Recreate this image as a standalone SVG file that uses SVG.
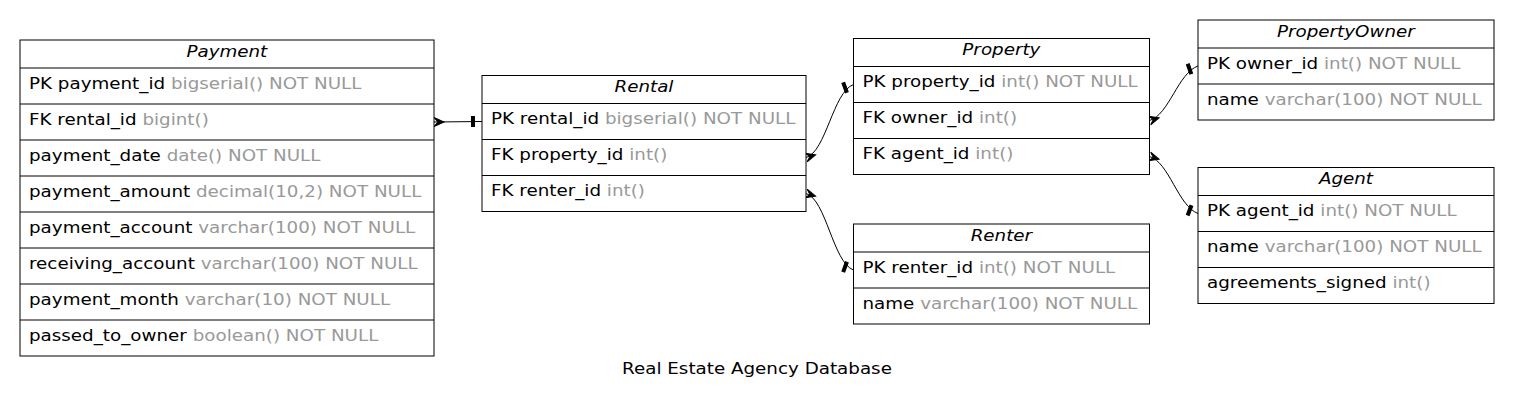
<svg xmlns="http://www.w3.org/2000/svg" width="1513" height="405" viewBox="0 0 1513 405">
<style>
  text { font-family: "DejaVu Sans", "Liberation Sans", sans-serif; font-size: 15px; fill: #000; transform-box: fill-box; transform: scaleX(1.22); }
  .l { transform-origin: 0 50%; }
  .c { text-anchor: middle; transform-origin: 50% 50%; }
  .h { font-style: italic; }
  .g { fill: #999999; }
  .box { fill: #fff; stroke: #000; stroke-width: 1; }
  .sep { stroke: #000; stroke-width: 1; }
  .edge { fill: none; stroke: #000; stroke-width: 1; marker-start: url(#crow); marker-end: url(#tee); }
</style>
<defs>
  <marker id="crow" markerUnits="userSpaceOnUse" orient="auto" markerWidth="12" markerHeight="12" refX="0" refY="0" overflow="visible">
    <path d="M0,-4.5 L10,0 L0,4.5 L4,0 Z" fill="#000" stroke="#000" stroke-width="1"/>
  </marker>
  <marker id="tee" markerUnits="userSpaceOnUse" orient="auto" markerWidth="12" markerHeight="12" refX="0" refY="0" overflow="visible">
    <rect x="-10.5" y="-5" width="3" height="10" fill="#000" stroke="#000" stroke-width="1"/>
  </marker>
</defs>
<rect width="1513" height="405" fill="#fff"/>

<g id="connectors">
  <path class="edge" d="M434,122 L482,121.5"/>
  <path class="edge" d="M806,157.5 C826,152 833,92 853.5,84.5"/>
  <path class="edge" d="M806,193.5 C826,199 833,262.5 853.5,270"/>
  <path class="edge" d="M1149.5,120.5 C1169,115 1178,73 1198,66"/>
  <path class="edge" d="M1149.5,156.5 C1169,162 1178,206 1198,213.5"/>
</g>

<g id="Payment">
  <rect class="box" x="20" y="40" width="414" height="316"/>
  <path class="sep" d="M20,68H434M20,104H434M20,140H434M20,176H434M20,212H434M20,248H434M20,284H434M20,320H434"/>
  <text class="c h" x="227" y="57">Payment</text>
  <text class="l" x="29" y="89">PK payment_id <tspan class="g">bigserial() NOT NULL</tspan></text>
  <text class="l" x="29" y="125">FK rental_id <tspan class="g">bigint()</tspan></text>
  <text class="l" x="29" y="161">payment_date <tspan class="g">date() NOT NULL</tspan></text>
  <text class="l" x="29" y="197">payment_amount <tspan class="g">decimal(10,2) NOT NULL</tspan></text>
  <text class="l" x="29" y="233">payment_account <tspan class="g">varchar(100) NOT NULL</tspan></text>
  <text class="l" x="29" y="269">receiving_account <tspan class="g">varchar(100) NOT NULL</tspan></text>
  <text class="l" x="29" y="305">payment_month <tspan class="g">varchar(10) NOT NULL</tspan></text>
  <text class="l" x="29" y="341">passed_to_owner <tspan class="g">boolean() NOT NULL</tspan></text>
</g>

<g id="Rental">
  <rect class="box" x="482" y="75.5" width="324" height="136"/>
  <path class="sep" d="M482,103.5H806M482,139.5H806M482,175.5H806"/>
  <text class="c h" x="644" y="92.5">Rental</text>
  <text class="l" x="491" y="124.5">PK rental_id <tspan class="g">bigserial() NOT NULL</tspan></text>
  <text class="l" x="491" y="160.5">FK property_id <tspan class="g">int()</tspan></text>
  <text class="l" x="491" y="196.5">FK renter_id <tspan class="g">int()</tspan></text>
</g>

<g id="Property">
  <rect class="box" x="853.5" y="38.5" width="296" height="136"/>
  <path class="sep" d="M853.5,66.5H1149.5M853.5,102.5H1149.5M853.5,138.5H1149.5"/>
  <text class="c h" x="1001.5" y="55.5">Property</text>
  <text class="l" x="862.5" y="87.5">PK property_id <tspan class="g">int() NOT NULL</tspan></text>
  <text class="l" x="862.5" y="123.5">FK owner_id <tspan class="g">int()</tspan></text>
  <text class="l" x="862.5" y="159.5">FK agent_id <tspan class="g">int()</tspan></text>
</g>

<g id="Renter">
  <rect class="box" x="853.5" y="224" width="296" height="100"/>
  <path class="sep" d="M853.5,252H1149.5M853.5,288H1149.5"/>
  <text class="c h" x="1001.5" y="241">Renter</text>
  <text class="l" x="862.5" y="273">PK renter_id <tspan class="g">int() NOT NULL</tspan></text>
  <text class="l" x="862.5" y="309">name <tspan class="g">varchar(100) NOT NULL</tspan></text>
</g>

<g id="PropertyOwner">
  <rect class="box" x="1198" y="20" width="296" height="100"/>
  <path class="sep" d="M1198,48H1494M1198,84H1494"/>
  <text class="c h" x="1346" y="37">PropertyOwner</text>
  <text class="l" x="1207" y="69">PK owner_id <tspan class="g">int() NOT NULL</tspan></text>
  <text class="l" x="1207" y="105">name <tspan class="g">varchar(100) NOT NULL</tspan></text>
</g>

<g id="Agent">
  <rect class="box" x="1198" y="167.5" width="296" height="136"/>
  <path class="sep" d="M1198,195.5H1494M1198,231.5H1494M1198,267.5H1494"/>
  <text class="c h" x="1346" y="184.5">Agent</text>
  <text class="l" x="1207" y="216.5">PK agent_id <tspan class="g">int() NOT NULL</tspan></text>
  <text class="l" x="1207" y="252.5">name <tspan class="g">varchar(100) NOT NULL</tspan></text>
  <text class="l" x="1207" y="288.5">agreements_signed <tspan class="g">int()</tspan></text>
</g>

<g id="title">
  <text class="c" x="757" y="374">Real Estate Agency Database</text>
</g>
</svg>
